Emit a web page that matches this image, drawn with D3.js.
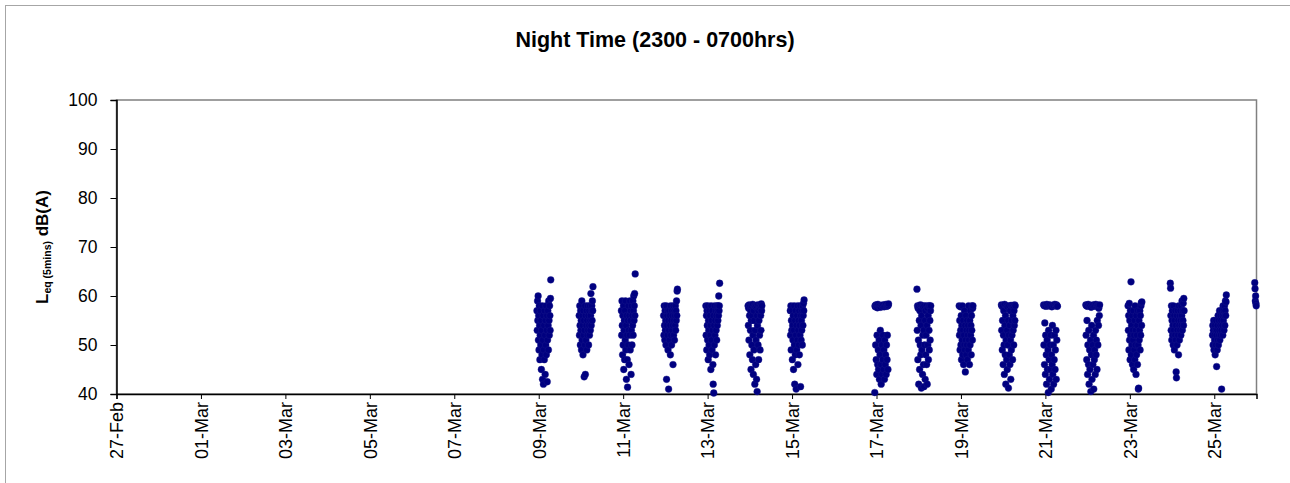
<!DOCTYPE html>
<html>
<head>
<meta charset="utf-8">
<script src="https://cdn.jsdelivr.net/npm/d3@7"></script>
<style>
  html, body { margin: 0; padding: 0; background: #fff; }
  svg { display: block; }
  text { font-family: "Liberation Sans", Arial, sans-serif; }
</style>
</head>
<body>
<svg id="chart" width="1290" height="483"></svg>
<script>
// ---------- DATA ----------
const chartTitle = "Night Time (2300 - 0700hrs)";
const xDomain = ["2007-02-27", "2007-03-26"];
const yTicks = [40, 50, 60, 70, 80, 90, 100];
const xTickDates = ["2007-02-27","2007-03-01","2007-03-03","2007-03-05","2007-03-07",
  "2007-03-09","2007-03-11","2007-03-13","2007-03-15","2007-03-17","2007-03-19",
  "2007-03-21","2007-03-23","2007-03-25"];
// Each night starts 23:00 the evening before the named date; one value every 10 minutes.
const night09Mar = [57,53,59,55,60,51,56,49,58,54,47,52,57,50,55,45,53,48,58,43,51,56,42,49,54,47,57,52,44,55,50,58,48,53,56,42.5,51,57,54,49,59,55,52,58,56,53,59.5,63.3];
const night10Mar = [56,52,58,54,50,57,53,55,49,59,51,56,54,48,57,52,55,43.5,53,50,58,44,56,51,54,57,49,55,52,58,53,56,50,54,57,52,58,55,53,56,60.5,54,57,58,55,59,57,61.9];
const night11Mar = [57,52,59,54,48,56,50,58,45,53,55,47,57,51,59,49,54,43,56,52,47,41.4,55,50,58,53,46,56,52,59,49,55,57,44,53,58,50,56,54,59,52,57,60,55,58,60.5,56,64.5];
const night12Mar = [56,52,58,54,51,57,53,55,50,58,43,54,56,52,57,49,55,41,53,57,51,56,54,48,58,52,55,50,57,53,56,54,46,58,52,55,57,51,56,54,58,53,57,55,59,56,61,61.4];
const night13Mar = [58,52,56,49,57,54,51,58,47,55,53,50,57,48,56,52,54,45,58,51,55,49,57,53,46,42,56,40.2,54,50,58,52,55,48,57,53,56,51,58,54,57,55,58,56,60,57,58,62.6];
const night14Mar = [58,54,57.5,51,58.2,56,48,58,53,57,45,55,58,50,56,47,58.3,52,44,57,49,55,58,42,53,57.8,46,51,58,43,56,40.5,54,58.2,50,57,47,55,58,52,57.5,49,58,56,53,58.4,57,58];
const night15Mar = [57,52,58,49,55,53,57,47,54,51,56,45,53,58,50,42,55,48,57,52,41,54,49,56,51,58,46,53,55,50,57,48,54,52,58,41.5,56,51,55,53,57,50,58,54,56,58.5,57,59.2];
const night17Mar = [40.3,58,57.8,50,58.2,47,58,44,52,57.6,46,58.3,49,45,57.9,51,43,58,48,53,57.7,46,42,58.1,50,44,58,47,52,58.2,45,49,57.8,43,51,58,46,48,58.3,44,50,57.9,47,52,58,45,58.1,58.4];
const night18Mar = [61.4,53,58,47,57.5,51,42,58,55,45,57,50,58.2,48,54,41.2,56,49,58,44,52,57.8,46,53,41.5,58,50,55,43,57,48,52,58,46,54,42,57.5,50,56,47,58,53,49,58,55,51,57,58];
const night19Mar = [58,52,55,49,57.8,53,50,56,47,54,51,58,48,53,55,46,52,50,57,49,54,44.5,51,56,48,53,50,55,47,52,54,49,58,51,53,46,55,50,57,52,54,48,56,53,58,51,57.5,58];
const night20Mar = [58.2,53,57.9,49,55,58,46,52,57,50,44,58.3,54,48,56,42,51,58,47,53,45,57.8,50,55,41.2,52,58,48,54,46,57,51,43,58.1,49,55,52,58,47,56,53,58,50,57,54,58.2,55,58];
const night21Mar = [58.2,50,58,46,54.5,58.1,44,52,57.9,48,42,58.3,51,45,58,49,40.3,53,58,47,43,58.2,50,45,52,58,41,48,57.8,46,54,44,58.1,50,42,58,47,52,58.3,45,49,58,53,43,58.2,51,58,57.9];
const night22Mar = [58.2,52,58,47,55,57.9,44,50,58.3,46,53,42,58,49,45,58.1,51,40.5,57.7,48,54,43,58,50,46,58.2,52,41,57.9,47,49,58,44,53,58.3,48,51,58,45,55,58.1,50,58,54,57.5,58,56,58.2];
const night23Mar = [58,53,56,49,58.5,51,55,47,57,52,62.9,48,54,50,56,46,53,51,57,45,52,49,55,47,58,50,53,44,56,48,52,54,46,57,50,41,41.2,55,51,53,57,49,56,52,58,58.6,54,58.8];
const night24Mar = [62.6,61.6,56,53,58,51,55,57,52,54,50,58,53,56,49,55,52,57,51,54,44.5,43.3,56,50,53,57,52,55,48,58,54,51,56,53,57,55,52,58,54,56,59,53,57,55,58.5,54,59.5,57];
const night25Mar = [52,54,50,53,55,49,52,51,54,48,53,50,55,52,45.6,53,49,54,51,56,50,55,52,53,57,51,54,56,52,55,53,41,57,54,56,52,58,55,57,53,56,58,54,57,59,56,58.8,60.2];
const night26Mar = [62.7,61.5,59,60,58.5,58];

const nights = [
  ["2007-03-09", night09Mar], ["2007-03-10", night10Mar], ["2007-03-11", night11Mar],
  ["2007-03-12", night12Mar], ["2007-03-13", night13Mar], ["2007-03-14", night14Mar],
  ["2007-03-15", night15Mar], ["2007-03-17", night17Mar], ["2007-03-18", night18Mar],
  ["2007-03-19", night19Mar], ["2007-03-20", night20Mar], ["2007-03-21", night21Mar],
  ["2007-03-22", night22Mar], ["2007-03-23", night23Mar], ["2007-03-24", night24Mar],
  ["2007-03-25", night25Mar], ["2007-03-26", night26Mar]
];

// ---------- BUILD ----------
const parse = d3.utcParse("%Y-%m-%d");
const points = [];
nights.forEach(([day, vals]) => {
  const start = d3.utcHour.offset(parse(day), -1); // 23:00 previous evening
  vals.forEach((v, i) => points.push({ t: d3.utcMinute.offset(start, i * 10), v }));
});

const svg = d3.select("#chart");
const plot = { left: 116.5, right: 1256.5, top: 100, bottom: 394 };

// outer chart-area frame
svg.append("rect").attr("x", 5.5).attr("y", 5.5).attr("width", 1400).attr("height", 600)
  .attr("fill", "#fff").attr("stroke", "#a6a6a6").attr("stroke-width", 1);

const x = d3.scaleUtc().domain(xDomain.map(parse)).range([plot.left, plot.right]);
const y = d3.scaleLinear().domain([40, 100]).range([plot.bottom, plot.top]);

// plot-area border (gray top/right)
svg.append("rect").attr("x", plot.left).attr("y", plot.top)
  .attr("width", plot.right - plot.left).attr("height", plot.bottom - plot.top)
  .attr("fill", "none").attr("stroke", "#808080").attr("stroke-width", 1.5);

// title
svg.append("text").attr("x", 655).attr("y", 47).attr("text-anchor", "middle")
  .attr("font-size", 21.5).attr("font-weight", "bold").text(chartTitle);

// y axis
const yAxis = svg.append("g").attr("transform", `translate(${plot.left},0)`)
  .call(d3.axisLeft(y).tickValues(yTicks).tickSize(6).tickPadding(13).tickFormat(d3.format("d")));
yAxis.select(".domain").attr("stroke", "#000").attr("stroke-width", 1.5);
yAxis.selectAll(".tick line").attr("stroke", "#000");
yAxis.selectAll(".tick text").attr("font-size", 17.5).attr("fill", "#000")
  .attr("font-family", "Liberation Sans, Arial, sans-serif");

// x axis
const fmt = d3.utcFormat("%d-%b");
const xAxis = svg.append("g").attr("transform", `translate(0,${plot.bottom})`)
  .call(d3.axisBottom(x).tickValues(xTickDates.map(parse)).tickSize(5).tickFormat(fmt));
xAxis.select(".domain").attr("stroke", "#000").attr("stroke-width", 1.5);
xAxis.selectAll(".tick line").attr("stroke", "#000");
xAxis.selectAll(".tick text")
  .attr("font-size", 18).attr("fill", "#000")
  .attr("font-family", "Liberation Sans, Arial, sans-serif")
  .attr("transform", "rotate(-90)")
  .attr("text-anchor", "end").attr("x", -8).attr("y", 0).attr("dy", "0.35em");

// y axis title with subscript
const yt = svg.append("text").attr("transform", "translate(48,247) rotate(-90)")
  .attr("text-anchor", "middle").attr("font-weight", "bold").attr("font-size", 17);
yt.append("tspan").text("L");
yt.append("tspan").attr("font-size", 10.5).attr("dy", 3).text("eq (5mins)");
yt.append("tspan").attr("dy", -3).text(" dB(A)");

// points
svg.append("g").selectAll("circle").data(points).join("circle")
  .attr("cx", d => x(d.t)).attr("cy", d => y(d.v)).attr("r", 3.4)
  .attr("fill", "#000080").attr("stroke", "#1a1a8c").attr("stroke-width", 0.4);
</script>
</body>
</html>
